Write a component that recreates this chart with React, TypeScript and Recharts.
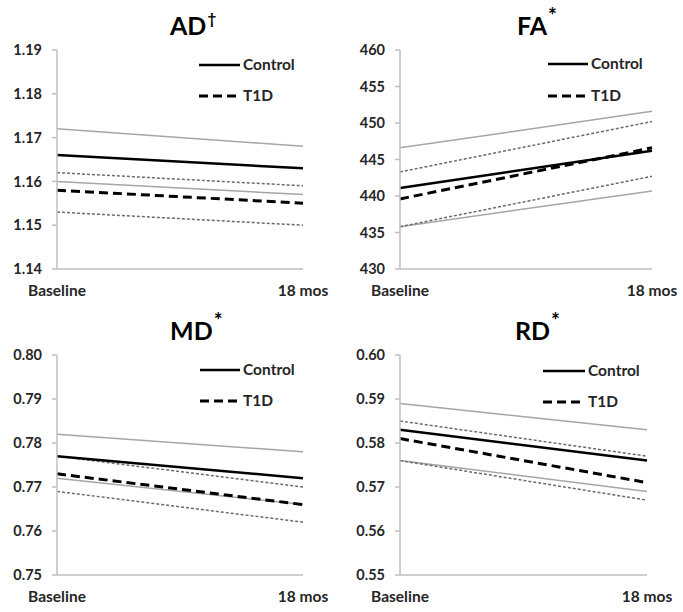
import React from 'react';
import { LineChart, Line, XAxis, YAxis } from 'recharts';

const timepoints = ['Baseline', '18 mos'];

// AD
const adControl = [1.166, 1.163];
const adControlUpper = [1.172, 1.168];
const adControlLower = [1.160, 1.157];
const adT1D = [1.158, 1.155];
const adT1DUpper = [1.162, 1.159];
const adT1DLower = [1.153, 1.150];
const adTicks = [1.14, 1.15, 1.16, 1.17, 1.18, 1.19];

// FA
const faControl = [441.1, 446.2];
const faControlUpper = [446.6, 451.6];
const faControlLower = [435.8, 440.7];
const faT1D = [439.6, 446.6];
const faT1DUpper = [443.3, 450.2];
const faT1DLower = [435.8, 442.7];
const faTicks = [430, 435, 440, 445, 450, 455, 460];

// MD
const mdControl = [0.777, 0.772];
const mdControlUpper = [0.782, 0.778];
const mdControlLower = [0.772, 0.766];
const mdT1D = [0.773, 0.766];
const mdT1DUpper = [0.777, 0.770];
const mdT1DLower = [0.769, 0.762];
const mdTicks = [0.75, 0.76, 0.77, 0.78, 0.79, 0.80];

// RD
const rdControl = [0.583, 0.576];
const rdControlUpper = [0.589, 0.583];
const rdControlLower = [0.576, 0.569];
const rdT1D = [0.581, 0.571];
const rdT1DUpper = [0.585, 0.577];
const rdT1DLower = [0.576, 0.567];
const rdTicks = [0.55, 0.56, 0.57, 0.58, 0.59, 0.60];

const FONT = 'Lato, "Open Sans", sans-serif';
const AXIS_GREY = '#bfbfbf';

function buildRows(c: number[], cu: number[], cl: number[], t: number[], tu: number[], tl: number[]) {
  return timepoints.map((time, i) => ({
    time,
    control: c[i],
    controlUpper: cu[i],
    controlLower: cl[i],
    t1d: t[i],
    t1dUpper: tu[i],
    t1dLower: tl[i],
  }));
}

type PanelProps = {
  title: string;
  sup: string;
  supDy: number;
  supSize: number;
  rows: any[];
  ticks: number[];
  digits: number;
  left: number;
  top: number;
  width: number;
  height: number;
  marginTop: number;
  marginRight: number;
  yWidth: number;
  titleX: number;
  titleY: number;
  legX1: number;
  legX2: number;
  legY1: number;
  legY2: number;
};

function Panel(p: PanelProps) {
  const yTickStyle = { fontSize: 14.5, fontWeight: 700, fill: '#262626', fontFamily: FONT };
  const xTickStyle = { fontSize: 15.5, fontWeight: 700, fill: '#262626', fontFamily: FONT };
  return (
    <div style={{ position: 'absolute', left: p.left, top: p.top, width: p.width, height: p.height }}>
      <LineChart
        width={p.width}
        height={p.height}
        data={p.rows}
        margin={{ top: p.marginTop, right: p.marginRight, left: 0, bottom: 0 }}
      >
        <XAxis
          dataKey="time"
          type="category"
          scale="point"
          interval={0}
          padding={{ left: 0, right: 0 }}
          height={31}
          tickLine={false}
          tickSize={6}
          tickMargin={10}
          axisLine={{ stroke: AXIS_GREY, strokeWidth: 1.5 }}
          tick={xTickStyle}
        />
        <YAxis
          type="number"
          width={p.yWidth}
          domain={[p.ticks[0], p.ticks[p.ticks.length - 1]]}
          ticks={p.ticks}
          interval={0}
          tickFormatter={(v: number) => v.toFixed(p.digits)}
          tickSize={5}
          tickMargin={10}
          axisLine={{ stroke: AXIS_GREY, strokeWidth: 1.5 }}
          tickLine={{ stroke: AXIS_GREY, strokeWidth: 1.5 }}
          tick={yTickStyle}
        />
        <Line type="linear" dataKey="controlUpper" stroke="#a6a6a6" strokeWidth={1.5} dot={false} activeDot={false} isAnimationActive={false} />
        <Line type="linear" dataKey="controlLower" stroke="#a6a6a6" strokeWidth={1.5} dot={false} activeDot={false} isAnimationActive={false} />
        <Line type="linear" dataKey="t1dUpper" stroke="#6b6b6b" strokeWidth={1.5} strokeDasharray="3 2" dot={false} activeDot={false} isAnimationActive={false} />
        <Line type="linear" dataKey="t1dLower" stroke="#6b6b6b" strokeWidth={1.5} strokeDasharray="3 2" dot={false} activeDot={false} isAnimationActive={false} />
        <Line type="linear" dataKey="control" stroke="#000" strokeWidth={2.5} dot={false} activeDot={false} isAnimationActive={false} />
        <Line type="linear" dataKey="t1d" stroke="#000" strokeWidth={3} strokeDasharray="9 5" dot={false} activeDot={false} isAnimationActive={false} />
      </LineChart>
      <svg
        width={p.width}
        height={p.height}
        style={{ position: 'absolute', left: 0, top: 0, pointerEvents: 'none' }}
      >
        <text x={p.titleX} y={p.titleY} fontFamily={FONT} fontWeight={700} fontSize={25} fill="#000">
          {p.title}
          <tspan dx={1} dy={p.supDy} fontSize={p.supSize}>{p.sup}</tspan>
        </text>
        <line x1={p.legX1} x2={p.legX2} y1={p.legY1} y2={p.legY1} stroke="#000" strokeWidth={2.5} />
        <text x={p.legX2 + 3} y={p.legY1 + 5} fontFamily={FONT} fontWeight={700} fontSize={15.5} fill="#262626">Control</text>
        <line x1={p.legX1} x2={p.legX2} y1={p.legY2} y2={p.legY2} stroke="#000" strokeWidth={3} strokeDasharray="9 5" />
        <text x={p.legX2 + 3} y={p.legY2 + 5} fontFamily={FONT} fontWeight={700} fontSize={15.5} fill="#262626">T1D</text>
      </svg>
    </div>
  );
}

export default function App() {
  const adRows = buildRows(adControl, adControlUpper, adControlLower, adT1D, adT1DUpper, adT1DLower);
  const faRows = buildRows(faControl, faControlUpper, faControlLower, faT1D, faT1DUpper, faT1DLower);
  const mdRows = buildRows(mdControl, mdControlUpper, mdControlLower, mdT1D, mdT1DUpper, mdT1DLower);
  const rdRows = buildRows(rdControl, rdControlUpper, rdControlLower, rdT1D, rdT1DUpper, rdT1DLower);
  return (
    <div style={{ position: 'absolute', left: 0, top: 0, width: 683, height: 612, background: '#fff' }}>
      <Panel title="AD" sup="†" supDy={-11} supSize={15} rows={adRows} ticks={adTicks} digits={2}
        left={0} top={0} width={341} height={300} marginTop={50} marginRight={38} yWidth={57}
        titleX={170} titleY={35} legX1={199} legX2={240} legY1={65} legY2={96} />
      <Panel title="FA" sup="*" supDy={-12} supSize={21} rows={faRows} ticks={faTicks} digits={0}
        left={341} top={0} width={342} height={300} marginTop={50} marginRight={31} yWidth={59}
        titleX={176} titleY={35} legX1={207} legX2={247} legY1={64} legY2={96} />
      <Panel title="MD" sup="*" supDy={-12} supSize={21} rows={mdRows} ticks={mdTicks} digits={2}
        left={0} top={300} width={341} height={306} marginTop={55} marginRight={38} yWidth={57}
        titleX={170} titleY={40} legX1={200} legX2={240} legY1={70} legY2={101} />
      <Panel title="RD" sup="*" supDy={-12} supSize={21} rows={rdRows} ticks={rdTicks} digits={2}
        left={341} top={300} width={342} height={306} marginTop={55} marginRight={36} yWidth={59}
        titleX={174} titleY={40} legX1={202} legX2={244} legY1={71} legY2={102} />
    </div>
  );
}
